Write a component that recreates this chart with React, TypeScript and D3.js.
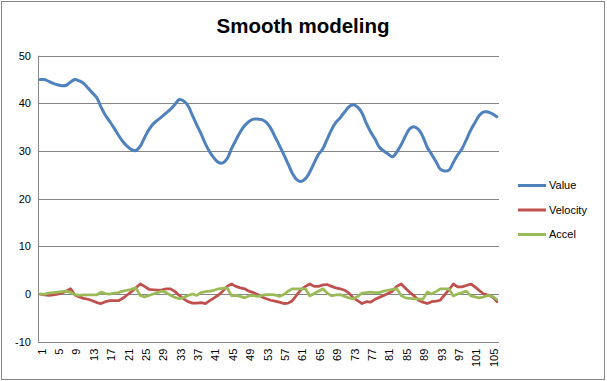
import React from "react";
import * as d3 from "d3";

const categories: number[] = Array.from({ length: 106 }, (_, i) => i + 1);

const valueSeries: number[] = [
  45.0, 45.0, 44.6, 44.2, 43.9, 43.7, 43.8, 44.5, 45.0, 44.7,
  44.2, 43.2, 42.2, 41.2, 39.2, 37.5, 36.2, 34.8, 33.3, 32.0,
  31.0, 30.3, 30.1, 31.0, 32.8, 34.5, 35.7, 36.5, 37.2, 38.0,
  38.8, 39.8, 40.8, 40.5, 39.5, 37.5, 35.5, 33.6, 31.5, 29.8,
  28.5, 27.6, 27.5, 28.4, 30.5, 32.3, 34.0, 35.3, 36.2, 36.7,
  36.7, 36.6, 36.0, 34.8, 33.0, 31.2, 29.3, 27.3, 25.3, 24.0,
  23.6, 24.2, 25.6, 27.5, 29.3, 30.5, 32.5, 34.5, 36.0, 37.0,
  38.2, 39.3, 39.7, 39.2, 38.0, 35.8, 34.0, 32.5, 30.8, 30.0,
  29.4, 28.8, 29.8, 31.3, 33.2, 34.7, 35.1, 34.5, 33.0, 30.8,
  29.3, 27.8, 26.2, 25.8, 26.0, 27.6, 29.2, 30.5, 32.4, 34.4,
  36.0, 37.5, 38.2, 38.2, 37.8, 37.2,
];

const velocitySeries: number[] = [
  0.0, -0.2, -0.3, -0.2, 0.0, 0.2, 0.6, 1.1, -0.2, -0.6,
  -0.9, -1.1, -1.4, -1.8, -2.0, -1.6, -1.4, -1.4, -1.4, -0.9,
  -0.2, 0.5, 1.3, 2.1, 1.6, 1.0, 0.9, 0.8, 0.9, 1.1,
  1.1, 0.5, -0.3, -1.0, -1.6, -1.9, -1.9, -1.8, -2.0, -1.4,
  -0.8, -0.2, 0.6, 1.6, 2.1, 1.6, 1.3, 1.1, 0.6, 0.3,
  -0.1, -0.6, -1.0, -1.3, -1.5, -1.7, -2.0, -1.9, -1.4, -0.2,
  0.9, 1.6, 2.1, 1.6, 1.6, 1.9, 2.0, 1.6, 1.3, 1.1,
  0.8, 0.2, -0.8, -1.4, -2.0, -1.6, -1.7, -1.1, -0.7, -0.3,
  0.1, 0.6, 1.6, 2.1, 1.2, 0.3, -0.4, -1.3, -1.7, -2.0,
  -1.6, -1.5, -1.3, -0.2, 0.9, 2.1, 1.5, 1.5, 1.8, 2.1,
  1.5, 0.7, 0.0, -0.2, -0.6, -1.6,
];

const accelSeries: number[] = [
  0.0, 0.0, 0.2, 0.3, 0.4, 0.5, 0.6, 0.3, -0.1, -0.3,
  -0.2, -0.2, -0.2, -0.2, 0.4, 0.1, 0.0, 0.2, 0.3, 0.6,
  0.8, 1.0, 1.3, -0.3, -0.6, -0.3, 0.0, 0.3, 0.6, 0.3,
  -0.3, -0.7, -1.0, -0.7, -0.3, 0.0, -0.3, 0.3, 0.5, 0.6,
  0.8, 1.1, 1.2, 1.3, -0.4, -0.3, -0.5, -0.8, -0.4, -0.3,
  -0.5, -0.3, -0.1, -0.1, -0.2, -0.5, -0.1, 0.6, 1.1, 1.1,
  1.1, 1.1, -0.4, 0.1, 0.6, 1.1, 0.2, -0.4, -0.2, -0.1,
  -0.5, -0.8, -1.0, -0.5, 0.2, 0.3, 0.4, 0.3, 0.3, 0.6,
  0.8, 1.0, 1.1, -0.3, -0.8, -0.9, -1.0, -1.0, -1.1, 0.4,
  0.0, 0.5, 1.1, 1.1, 1.1, -0.4, 0.0, 0.3, 0.6, -0.4,
  -0.6, -0.8, -0.6, -0.3, -0.5, -1.1,
];

const yTicks: number[] = [-10, 0, 10, 20, 30, 40, 50];
const xTickLabels: number[] = categories.filter((c) => (c - 1) % 4 === 0);

const seriesNames = ["Value", "Velocity", "Accel"];
const seriesColors = ["#4F81BD", "#C0504D", "#9BBB59"];

const W = 607;
const H = 381;
const plotLeft = 38;
const plotRight = 499;
const plotTop = 55.7;
const plotBottom = 341.7;
const FONT = "'Liberation Sans', Arial, sans-serif";

export default function App() {
  const x = d3
    .scaleBand<number>()
    .domain(categories)
    .range([plotLeft, plotRight])
    .padding(0);
  const y = d3.scaleLinear().domain([-10, 50]).range([plotBottom, plotTop]);
  const cx = (c: number) => (x(c) as number) + x.bandwidth() / 2;

  const allSeries = [valueSeries, velocitySeries, accelSeries];
  const makeLine = (smooth: boolean) =>
    d3
      .line<number>()
      .x((_, i) => cx(categories[i]))
      .y((d) => y(d))
      .curve(smooth ? d3.curveCatmullRom.alpha(0.5) : d3.curveLinear);

  return (
    <svg
      width={W}
      height={H}
      style={{ position: "fixed", left: 0, top: 0, background: "#fff" }}
    >
      <rect x={0} y={0} width={W} height={H} fill="#fff" />
      <rect
        x={1.5}
        y={1.5}
        width={603}
        height={378}
        fill="none"
        stroke="#868686"
        strokeWidth={1}
      />
      <text
        x={303}
        y={33}
        textAnchor="middle"
        fontFamily={FONT}
        fontWeight="bold"
        fontSize={20}
        textLength={173}
        lengthAdjust="spacingAndGlyphs"
        fill="#000"
      >
        Smooth modeling
      </text>

      {yTicks.map((t) => (
        <g key={t}>
          {t > -10 && (
            <line
              x1={plotLeft}
              x2={plotRight}
              y1={Math.round(y(t)) + 0.5}
              y2={Math.round(y(t)) + 0.5}
              stroke="#868686"
              strokeWidth={1}
            />
          )}
          <text
            x={31}
            y={y(t)}
            dy="0.35em"
            textAnchor="end"
            fontFamily={FONT}
            fontSize={11}
            fill="#000"
          >
            {t}
          </text>
        </g>
      ))}
      <line
        x1={plotLeft + 0.5}
        x2={plotLeft + 0.5}
        y1={plotTop}
        y2={plotBottom}
        stroke="#868686"
      />
      <line
        x1={plotLeft}
        x2={plotRight}
        y1={Math.round(plotBottom) + 0.5}
        y2={Math.round(plotBottom) + 0.5}
        stroke="#868686"
      />

      {xTickLabels.map((c) => (
        <text
          key={c}
          transform={`translate(${cx(c) + 1.5},${plotBottom + 7}) rotate(-90)`}
          textAnchor="end"
          dy="0.35em"
          fontFamily={FONT}
          fontSize={11}
          fill="#000"
        >
          {c}
        </text>
      ))}

      {allSeries.map((s, k) => (
        <path
          key={k}
          d={makeLine(k === 0)(s) || ""}
          fill="none"
          stroke={seriesColors[k]}
          strokeWidth={k === 0 ? 3 : 2.75}
          strokeLinejoin="round"
          strokeLinecap="round"
        />
      ))}

      {seriesNames.map((n, k) => {
        const ly = 185.5 + k * 24.5;
        return (
          <g key={n}>
            <line
              x1={518}
              x2={546}
              y1={ly}
              y2={ly}
              stroke={seriesColors[k]}
              strokeWidth={3}
            />
            <text
              x={549}
              y={ly}
              dy="0.35em"
              fontFamily={FONT}
              fontSize={11}
              fill="#000"
            >
              {n}
            </text>
          </g>
        );
      })}
    </svg>
  );
}
